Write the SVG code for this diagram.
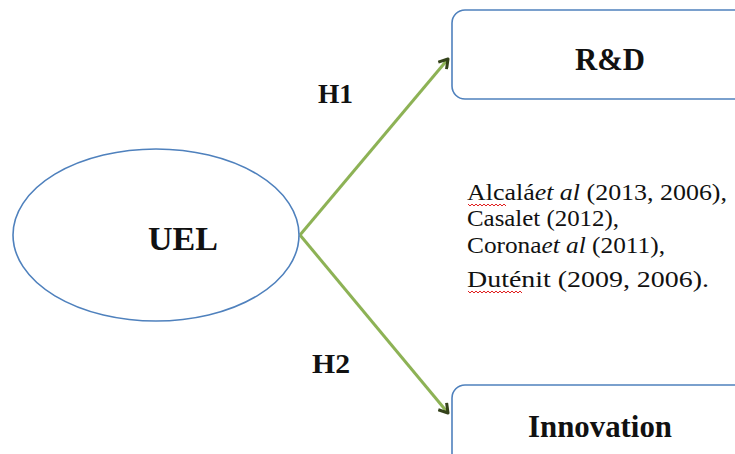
<svg xmlns="http://www.w3.org/2000/svg" width="735" height="454" viewBox="0 0 735 454">
<style>
.shape{fill:#fff;stroke:#4f81bd;stroke-width:1.6}
.lbl{font-family:'Liberation Serif','DejaVu Serif',serif;font-weight:bold;fill:#111}
.cit{font-family:'Liberation Serif','DejaVu Serif',serif;font-size:23px;fill:#111}
.conn{stroke:#8db255;stroke-width:3;fill:none}
.spell{stroke:#e02020;stroke-width:1;fill:none}
</style>
<defs>
<marker id="ah" viewBox="0 0 12 12" refX="10" refY="6" markerWidth="13" markerHeight="13" markerUnits="userSpaceOnUse" orient="auto">
<path d="M2,1 L10,6 L2,11" fill="none" stroke="#34421a" stroke-width="2.8" stroke-linejoin="round"/>
</marker>
</defs>
<rect width="735" height="454" fill="#fff"/>
<g id="connectors">
<line class="conn" x1="300" y1="235" x2="448" y2="59" marker-end="url(#ah)"/>
<line class="conn" x1="300" y1="235" x2="448" y2="413" marker-end="url(#ah)"/>
<text class="lbl" x="318" y="103" font-size="27" textLength="35" lengthAdjust="spacingAndGlyphs">H1</text>
<text class="lbl" x="312" y="373" font-size="28" textLength="38" lengthAdjust="spacingAndGlyphs">H2</text>
</g>
<g id="uel">
<ellipse class="shape" cx="156" cy="235" rx="143" ry="86"/>
<text class="lbl" x="148" y="250" font-size="34" textLength="70" lengthAdjust="spacingAndGlyphs">UEL</text>
</g>
<g id="rd">
<rect class="shape" x="452" y="10" width="300" height="89" rx="13"/>
<text class="lbl" x="575" y="70" font-size="31" textLength="70" lengthAdjust="spacingAndGlyphs">R&amp;D</text>
</g>
<g id="innovation">
<rect class="shape" x="452" y="385" width="300" height="89" rx="13"/>
<text class="lbl" x="528" y="437" font-size="31" textLength="144" lengthAdjust="spacingAndGlyphs">Innovation</text>
</g>
<g id="citations">
<text class="cit" x="467" y="200" textLength="260" lengthAdjust="spacingAndGlyphs">Alcalá<tspan font-style="italic">et al</tspan> (2013, 2006),</text>
<text class="cit" x="467" y="226" textLength="152" lengthAdjust="spacingAndGlyphs">Casalet (2012),</text>
<text class="cit" x="467" y="253" textLength="198" lengthAdjust="spacingAndGlyphs">Corona<tspan font-style="italic">et al</tspan> (2011),</text>
<text class="cit" x="467" y="287" font-size="25" textLength="242" lengthAdjust="spacingAndGlyphs">Duténit (2009, 2006).</text>
<path class="spell" d="M468,204 l2,2 l2,-2 l2,2 l2,-2 l2,2 l2,-2 l2,2 l2,-2 l2,2 l2,-2 l2,2 l2,-2 l2,2 l2,-2 l2,2 l2,-2 l2,2 l2,-2 l2,2"/>
<path class="spell" d="M468,291 l2,2 l2,-2 l2,2 l2,-2 l2,2 l2,-2 l2,2 l2,-2 l2,2 l2,-2 l2,2 l2,-2 l2,2 l2,-2 l2,2 l2,-2 l2,2 l2,-2 l2,2 l2,-2 l2,2 l2,-2 l2,2 l2,-2 l2,2 l2,-2 l2,2"/>
</g>
</svg>
